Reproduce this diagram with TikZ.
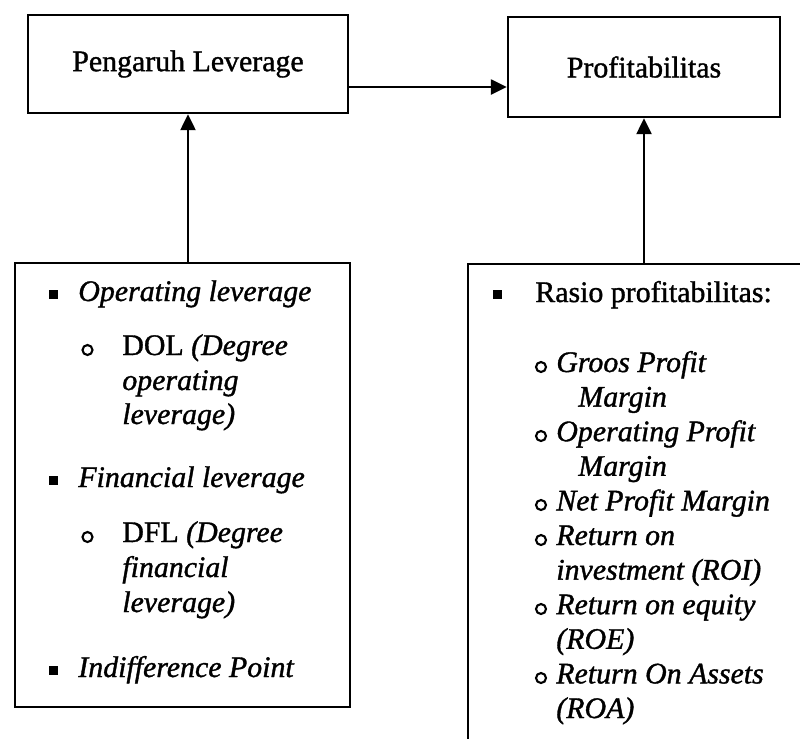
\documentclass[tikz,border=0pt]{standalone}
\usepackage{fontspec}
\setmainfont{Liberation Serif}[FakeBold=1.2]
\usetikzlibrary{arrows.meta}
\newcommand{\fsz}{\fontsize{17}{20}\selectfont}

\begin{document}
\begin{tikzpicture}[x=0.02cm,y=-0.02cm,
  boxtop/.style={draw, line width=1.4pt, inner sep=0pt, font=\fsz},
  boxlist/.style={draw, line width=1.4pt, inner sep=0pt},
  arrowline/.style={line width=1.4pt, -{Triangle[length=0.32cm,width=0.3cm]}},
  item/.style={anchor=base west, inner sep=0pt, font=\fsz},
  bulsq/.style={fill, inner sep=0pt, minimum size=0.18cm},
  bulcirc/.style={draw, circle, line width=1.2pt, inner sep=0pt, minimum size=0.2cm}]
\clip (0,0) rectangle (800,738);
% boxes
\node[boxtop, minimum width=6.4cm, minimum height=1.96cm] (lev) at (188,64) {Pengaruh Leverage};
\node[boxtop, minimum width=5.44cm, minimum height=2cm] (prof) at (644,67) {Profitabilitas};
\node[boxlist, minimum width=6.7cm, minimum height=8.88cm] (lbox) at (182.5,485) {};
\node[boxlist, minimum width=7.04cm, minimum height=9.92cm] (rbox) at (644,512) {};
% arrows
\coordinate (mid) at (0,87);
\draw[arrowline] (lev.east |- mid) -- (prof.west |- mid);
\draw[arrowline] (lev.south |- lbox.north) -- (lev.south);
\draw[arrowline] (prof.south |- rbox.north) -- (prof.south);
% left list
\node[bulsq] (lb1) at (53,294) {};
\node[item] (l1) at (78,301) {\textit{Operating leverage}};
\node[bulcirc] (lc1) at (87.5,350) {};
\node[item] (l2) at (122,355) {DOL \textit{(Degree}};
\node[item] (l3) at (122,390) {\textit{operating}};
\node[item] (l4) at (122,424) {\textit{leverage)}};
\node[bulsq] (lb2) at (53,480) {};
\node[item] (l5) at (78,487) {\textit{Financial leverage}};
\node[bulcirc] (lc2) at (87.5,537) {};
\node[item] (l6) at (122,542) {DFL \textit{(Degree}};
\node[item] (l7) at (122,577) {\textit{financial}};
\node[item] (l8) at (122,612) {\textit{leverage)}};
\node[bulsq] (lb3) at (53,670) {};
\node[item] (l9) at (78,677) {\textit{Indifference Point}};
% right list
\node[bulsq] (rb1) at (497,294) {};
\node[item] (r1) at (535,302) {Rasio profitabilitas:};
\node[bulcirc] (rc1) at (541,367) {};
\node[item] (r2) at (556,372) {\textit{Groos Profit}};
\node[item] (r3) at (578,406.6) {\textit{Margin}};
\node[bulcirc] (rc2) at (541,436) {};
\node[item] (r4) at (556,441.2) {\textit{Operating Profit}};
\node[item] (r5) at (578,475.8) {\textit{Margin}};
\node[bulcirc] (rc3) at (541,505) {};
\node[item] (r6) at (556,510.4) {\textit{Net Profit Margin}};
\node[bulcirc] (rc4) at (541,540) {};
\node[item] (r7) at (556,545) {\textit{Return on}};
\node[item] (r8) at (556,579.6) {\textit{investment (ROI)}};
\node[bulcirc] (rc5) at (541,609) {};
\node[item] (r9) at (556,614.2) {\textit{Return on equity}};
\node[item] (r10) at (556,648.8) {\textit{(ROE)}};
\node[bulcirc] (rc6) at (541,678) {};
\node[item] (r11) at (556,683.4) {\textit{Return On Assets}};
\node[item] (r12) at (556,718) {\textit{(ROA)}};
\end{tikzpicture}
\end{document}
